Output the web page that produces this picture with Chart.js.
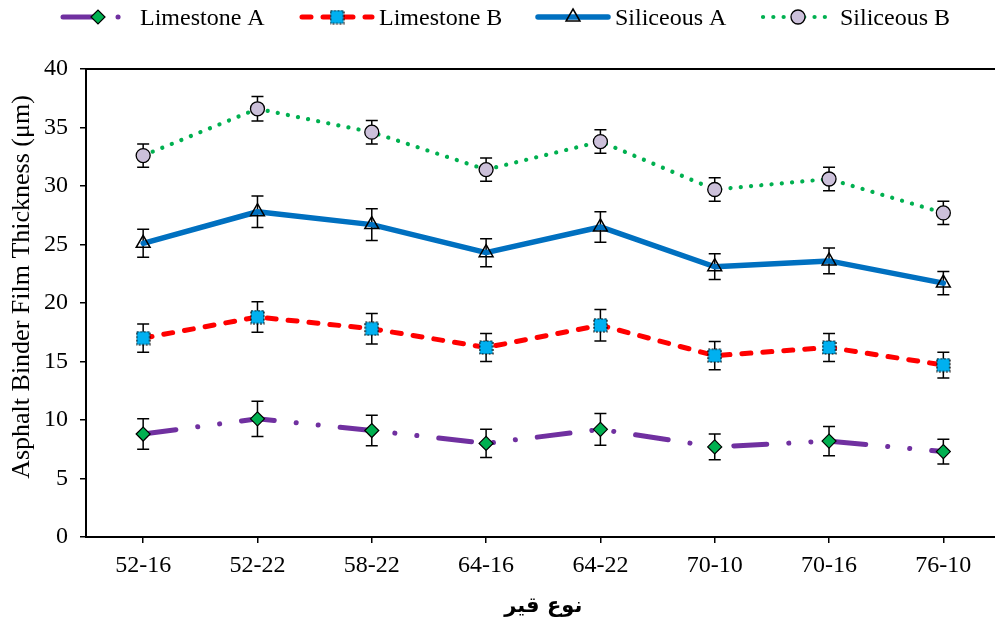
<!DOCTYPE html>
<html><head><meta charset="utf-8">
<script src="https://cdn.jsdelivr.net/npm/chart.js@4"></script>
<style>
html,body{margin:0;padding:0;overflow:hidden;background:#fff;width:995px;height:623px}
#wrap{position:relative;width:1010px;height:623px}
</style></head>
<body><div id="wrap"><canvas id="c" width="1010" height="623"></canvas></div>
<script>
const categories = ['52-16','52-22','58-22','64-16','64-22','70-10','70-16','76-10'];
const limestoneA    = [8.8, 10.1, 9.1, 8.0, 9.2, 7.7, 8.2, 7.3];
const limestoneAErr = [1.3, 1.5, 1.3, 1.2, 1.35, 1.1, 1.25, 1.05];
const limestoneB    = [17.0, 18.8, 17.8, 16.2, 18.1, 15.5, 16.2, 14.7];
const limestoneBErr = [1.2, 1.3, 1.3, 1.2, 1.35, 1.2, 1.2, 1.1];
const siliceousA    = [25.1, 27.8, 26.7, 24.3, 26.5, 23.1, 23.6, 21.7];
const siliceousAErr = [1.2, 1.35, 1.35, 1.2, 1.3, 1.1, 1.1, 1.0];
const siliceousB    = [32.6, 36.6, 34.6, 31.4, 33.8, 29.7, 30.6, 27.7];
const siliceousBErr = [1.0, 1.05, 1.0, 1.0, 1.0, 1.0, 1.0, 1.0];
const yTicks = {min: 0, max: 40, step: 5};
const xTitle = 'نوع قير';
const yTitle = 'Asphalt Binder Film Thickness (μm)';

const serif = "'Liberation Serif','Times New Roman',serif";

function squareMarker(){
  const s = 13, cv = document.createElement('canvas');
  cv.width = s + 2; cv.height = s + 2;
  const c = cv.getContext('2d');
  c.fillStyle = '#00B0F0'; c.fillRect(1, 1, s, s);
  c.setLineDash([2, 1.5]); c.strokeStyle = '#000'; c.lineWidth = 1.2;
  c.strokeRect(1, 1, s, s);
  return cv;
}
const sq = squareMarker();

const datasets = [
  {label:'Limestone A', data:limestoneA, err:limestoneAErr, borderColor:'#7030A0', borderWidth:5,
   borderDash:[33,22,0.1,22,0.1,22], pointStyle:'rectRot', pointRadius:7, pointBackgroundColor:'#00B050',
   pointBorderColor:'#000', pointBorderWidth:1.2},
  {label:'Limestone B', data:limestoneB, err:limestoneBErr, borderColor:'#FF0000', borderWidth:5,
   borderDash:[9,12], pointStyle:sq, pointRadius:7, pointBackgroundColor:'#00B0F0',
   pointBorderColor:'#000', pointBorderWidth:1},
  {label:'Siliceous A', data:siliceousA, err:siliceousAErr, borderColor:'#0070C0', borderWidth:5.5,
   borderDash:[], pointStyle:'triangle', pointRadius:8, pointBackgroundColor:'rgba(0,0,0,0)',
   pointBorderColor:'#000', pointBorderWidth:1.5},
  {label:'Siliceous B', data:siliceousB, err:siliceousBErr, borderColor:'#00B050', borderWidth:4.2,
   borderDash:[0.1,10.2], pointStyle:'circle', pointRadius:7, pointBackgroundColor:'#CCC0DA',
   pointBorderColor:'#000', pointBorderWidth:1.3}
];
datasets.forEach(d => { d.borderCapStyle = 'round'; d.borderJoinStyle = 'round'; d.tension = 0; d.fill = false; d.pointHoverRadius = d.pointRadius; });

const errorBars = {
  id:'errorBars',
  beforeDatasetsDraw(chart){
    const ctx = chart.ctx, y = chart.scales.y;
    ctx.save();
    ctx.strokeStyle = '#000'; ctx.lineWidth = 1.5; ctx.setLineDash([]);
    chart.data.datasets.forEach((ds, i) => {
      const meta = chart.getDatasetMeta(i);
      ds.data.forEach((v, j) => {
        const x = meta.data[j].x;
        const t = y.getPixelForValue(v + ds.err[j]);
        const b = y.getPixelForValue(v - ds.err[j]);
        ctx.beginPath();
        ctx.moveTo(x, t); ctx.lineTo(x, b);
        ctx.moveTo(x - 6, t); ctx.lineTo(x + 6, t);
        ctx.moveTo(x - 6, b); ctx.lineTo(x + 6, b);
        ctx.stroke();
      });
    });
    ctx.restore();
  }
};

const frame = {
  id:'frame',
  afterDraw(chart){
    const ctx = chart.ctx, a = chart.chartArea;
    ctx.save();
    ctx.strokeStyle = '#000'; ctx.lineWidth = 2;
    ctx.beginPath(); ctx.moveTo(a.left - 1, a.top); ctx.lineTo(a.right + 2, a.top); ctx.stroke();
    // y-axis title (placed slightly above the axis centre, as in the original)
    ctx.translate(22, 287);
    ctx.rotate(-Math.PI / 2);
    ctx.fillStyle = '#000'; ctx.font = '26px ' + serif;
    ctx.textAlign = 'center'; ctx.textBaseline = 'middle';
    ctx.fillText(yTitle, 0, 0);
    ctx.restore();
  }
};

const legendStarts = [63, 302, 538, 763];
const customLegend = {
  id:'customLegend',
  afterDraw(chart){
    const ctx = chart.ctx, yc = 17;
    chart.data.datasets.forEach((ds, i) => {
      const x0 = legendStarts[i];
      ctx.save();
      ctx.strokeStyle = ds.borderColor; ctx.lineWidth = ds.borderWidth;
      ctx.lineCap = 'round'; ctx.setLineDash(ds.borderDash);
      ctx.beginPath(); ctx.moveTo(x0, yc); ctx.lineTo(x0 + 70, yc); ctx.stroke();
      ctx.setLineDash([]);
      ctx.fillStyle = ds.pointBackgroundColor; ctx.strokeStyle = ds.pointBorderColor;
      ctx.lineWidth = ds.pointBorderWidth;
      Chart.helpers.drawPoint(ctx, {pointStyle: ds.pointStyle, radius: ds.pointRadius, borderWidth: ds.pointBorderWidth, rotation: 0}, x0 + 35, yc);
      ctx.fillStyle = '#000'; ctx.font = '24px ' + serif; ctx.textBaseline = 'alphabetic';
      ctx.fillText(ds.label, x0 + 77, yc + 8);
      ctx.restore();
    });
  }
};

new Chart(document.getElementById('c'), {
  type:'line',
  data:{labels:categories, datasets},
  options:{
    responsive:false, devicePixelRatio:1, animation:false,
    layout:{padding:{top:69, right:9, left:0, bottom:0}},
    plugins:{legend:{display:false}, tooltip:{enabled:false}},
    scales:{
      x:{
        offset:true,
        grid:{display:true, drawOnChartArea:false, drawTicks:true, tickLength:6, color:'#000', lineWidth:1.5},
        border:{display:true, color:'#000', width:2},
        ticks:{color:'#000', font:{family:serif, size:24}, padding:8, maxRotation:0, autoSkip:false},
        title:{display:true, text:xTitle, color:'#000', font:{family:"'DejaVu Sans',sans-serif", weight:'bold', size:21}, padding:{top:0, bottom:4}},
        afterFit(s){ s.height = 86; }
      },
      y:{
        min:yTicks.min, max:yTicks.max,
        grid:{display:true, drawOnChartArea:false, drawTicks:true, tickLength:6, color:'#000', lineWidth:1.5},
        border:{display:true, color:'#000', width:2},
        ticks:{stepSize:yTicks.step, color:'#000', font:{family:serif, size:24}, padding:12},
        title:{display:false},
        afterFit(s){ s.width = 86; }
      }
    }
  },
  plugins:[errorBars, frame, customLegend]
});
</script>
</body></html>
